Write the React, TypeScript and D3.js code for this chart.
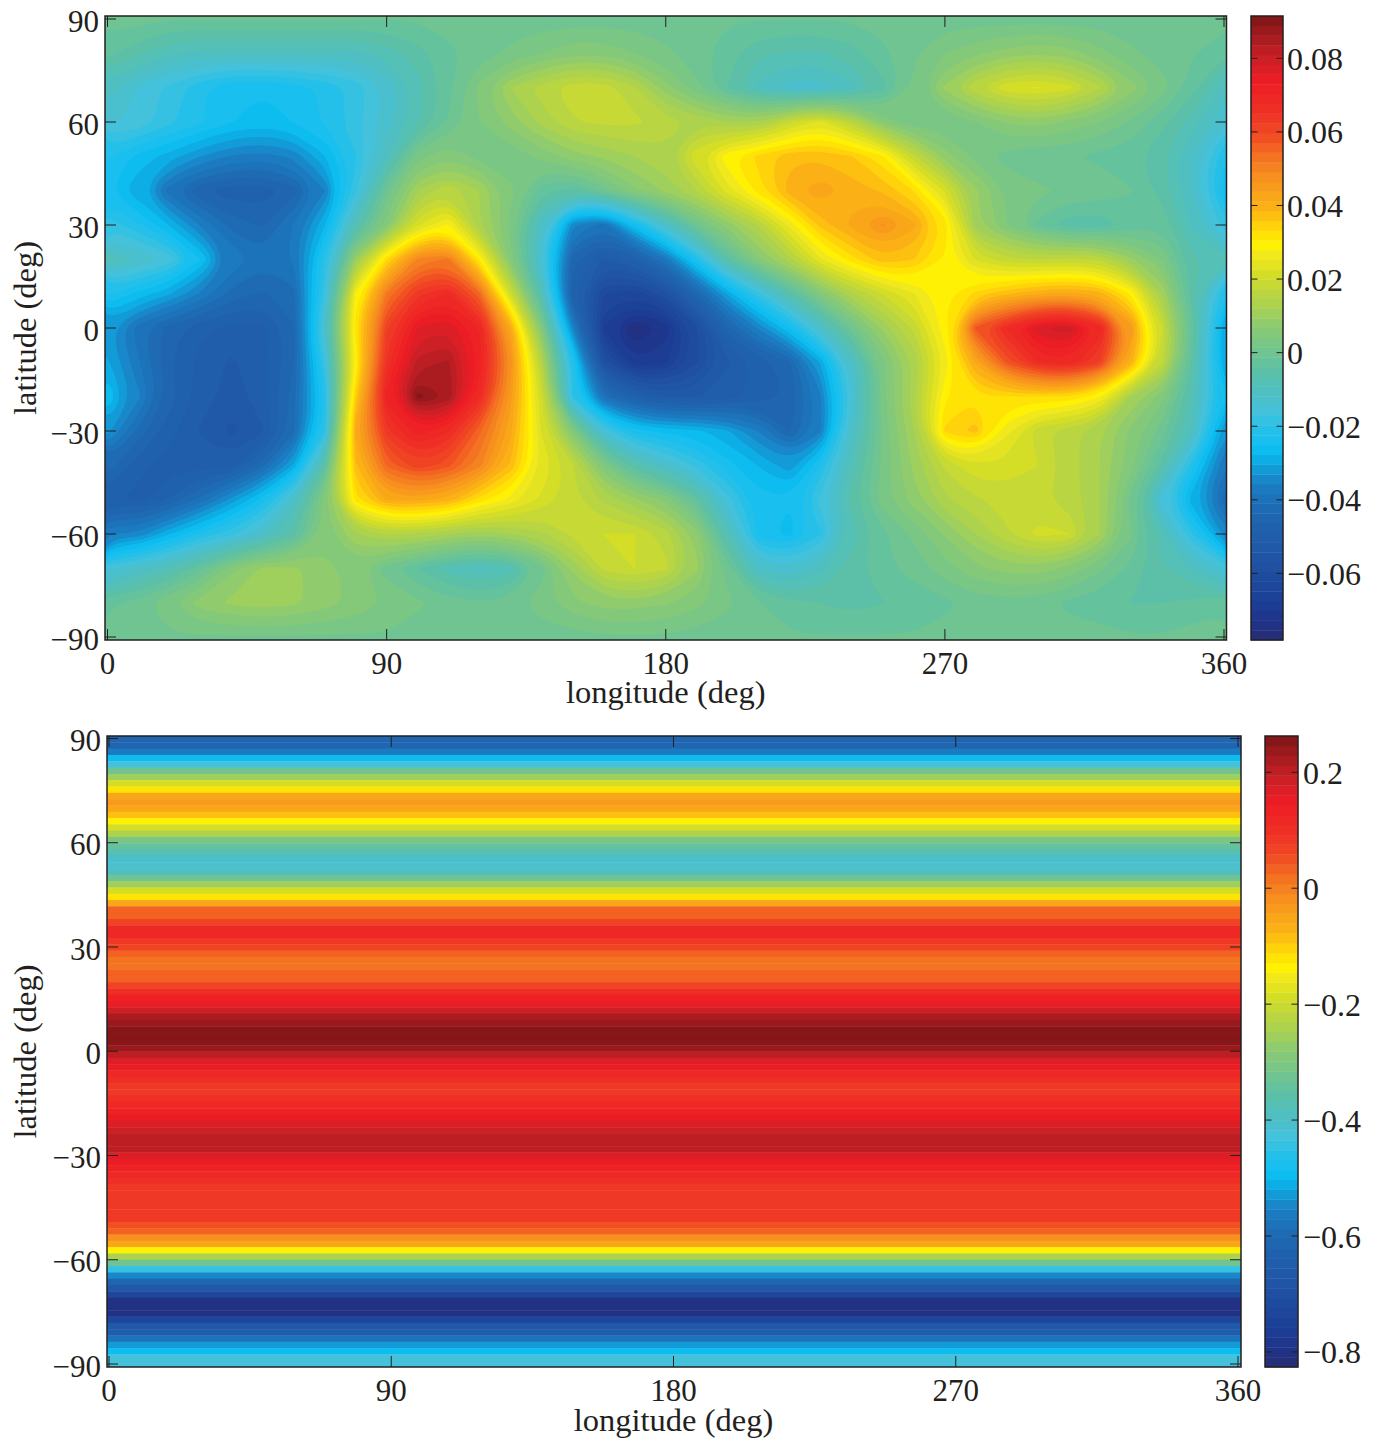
import React from "react";
import * as d3 from "d3";

// ---------- Tick labels ----------
const lonTicks = [0, 90, 180, 270, 360];
const latTicks = [90, 60, 30, 0, -30, -60, -90];
const topBarTicks = [0.08, 0.06, 0.04, 0.02, 0, -0.02, -0.04, -0.06];
const bottomBarTicks = [0.2, 0, -0.2, -0.4, -0.6, -0.8];
const xTitle = "longitude (deg)";
const yTitle = "latitude (deg)";

// ---------- Colour scale ranges ----------
const topRange = [-0.0781, 0.0915];
const bottomRange = [-0.826, 0.2626];

// ---------- Colormap stops: [position, colour] ----------
const mapPositions = [0, 0.03, 0.06, 0.1, 0.15, 0.2, 0.25, 0.28, 0.3, 0.33, 0.37, 0.4, 0.44, 0.47, 0.5, 0.53, 0.56, 0.59, 0.62, 0.635, 0.66, 0.69, 0.72, 0.75, 0.78, 0.81, 0.85, 0.895, 0.92, 0.95, 0.975, 1];
const mapColours = ["#262d72", "#1f3389", "#1b3f95", "#1f4b9f", "#2059a8", "#1f66b0", "#1c7fc3", "#0fa3dd", "#0bbcf1", "#1fc0ec", "#47c1da", "#4fbfc0", "#60c1a0", "#76c68a", "#89ca75", "#a5d056", "#bdd63c", "#d9df24", "#f5ea1c", "#fff200", "#ffd60a", "#fcb515", "#f9a01b", "#f68a1f", "#f46c21", "#f04a24", "#ef2f25", "#ed1c24", "#d71f27", "#b81e24", "#9b191d", "#7e1416"];

// ---------- Top panel: field read at every 10 deg (units of 0.001) ----------
const lonNodes = d3.range(0, 361, 10);
const latNodes = d3.range(90, -91, -10);
const lat90 = [0, 0, -1, -1, -1, -1, -1, -1, -1, -1, -1, 0, 0, 0, 0, 0, 0, 0, 0, 0, -1, -1, -1, -1, -1, 0, 0, 0, 0, 0, 0, 0, 0, 0, 0, 0, 0];
const lat80 = [-3, -6, -9, -10, -10, -10, -10, -10, -10, -8, -5, -2, 0, 2, 4, 6, 6, 4, 2, 0, -3, -6, -7, -7, -5, -2, 1, 4, 6, 8, 9, 8, 5, 2, 0, -1, -3];
const lat70 = [-10, -15, -18, -22, -25, -25, -24, -22, -19, -14, -8, -2, 5, 12, 16, 19, 19, 15, 8, 2, -4, -10, -13, -13, -10, -5, 2, 10, 17, 22, 23, 21, 15, 8, 3, -3, -10];
const lat60 = [-14, -15, -19, -22, -25, -26, -25, -22, -18, -13, -7, -1, 4, 8, 13, 17, 18, 18, 16, 14, 12, 12, 19, 24, 16, 6, 2, 2, 4, 7, 8, 6, 4, 1, -3, -8, -14];
const lat50 = [-22, -26, -29, -33, -36, -37, -35, -28, -20, -10, 3, 6, 3, 2, 5, 8, 10, 12, 14, 22, 30, 34, 38, 38, 36, 31, 18, 8, 3, 0, -1, -1, -2, -3, -6, -12, -22];
const lat40 = [-25, -30, -40, -46, -48, -48, -45, -36, -18, 0, 12, 17, 12, 5, -3, -5, 0, 6, 10, 15, 24, 32, 40, 43, 40, 38, 33, 22, 10, 4, 2, 1, 1, -1, -5, -12, -25];
const lat30 = [-18, -22, -28, -36, -42, -44, -38, -28, -8, 5, 22, 28, 12, 3, -12, -35, -40, -25, -12, 0, 8, 15, 26, 37, 42, 47, 42, 33, 10, 4, -2, -6, -6, -3, -2, -10, -18];
const lat20 = [-8, -12, -15, -25, -36, -40, -38, -20, 10, 33, 50, 52, 30, 5, -15, -45, -52, -48, -38, -22, -5, 6, 14, 25, 32, 38, 36, 30, 22, 18, 17, 18, 17, 10, 4, -6, -8];
const lat10 = [-22, -26, -30, -36, -42, -44, -42, -18, 28, 52, 64, 68, 55, 20, -8, -48, -62, -64, -58, -44, -30, -18, -6, 5, 14, 20, 25, 30, 34, 38, 41, 42, 40, 30, 12, -6, -22];
const lat0 = [-32, -40, -45, -48, -50, -50, -44, -12, 32, 62, 76, 78, 70, 42, 5, -35, -68, -76, -72, -60, -45, -35, -25, -12, 0, 10, 18, 30, 58, 68, 78, 80, 70, 46, 20, -3, -30];
const latS10 = [-30, -38, -46, -50, -52, -50, -44, -18, 28, 65, 82, 84, 72, 48, 15, -20, -58, -70, -68, -60, -52, -48, -44, -30, -12, 3, 12, 26, 42, 58, 68, 70, 62, 40, 18, -5, -30];
const latS20 = [-25, -35, -45, -50, -53, -50, -42, -22, 35, 72, 90, 86, 68, 45, 20, -20, -40, -48, -52, -52, -50, -48, -46, -36, -15, 3, 14, 30, 33, 33, 33, 33, 28, 12, 5, -8, -25];
const latS30 = [-32, -42, -48, -52, -55, -52, -42, -20, 42, 64, 72, 68, 55, 42, 22, 5, -15, -24, -26, -27, -30, -36, -44, -36, -12, 2, 12, 34, 37, 26, 18, 16, 12, 6, 0, -10, -32];
const latS40 = [-42, -48, -50, -50, -50, -42, -30, -5, 38, 55, 62, 58, 50, 38, 25, 18, 4, -6, -12, -18, -24, -28, -32, -22, -8, 2, 10, 18, 22, 22, 20, 16, 12, 5, -5, -22, -38];
const latS50 = [-48, -50, -46, -40, -32, -24, -12, 6, 32, 42, 42, 40, 32, 27, 22, 18, 14, 10, 6, -3, -16, -24, -25, -16, -5, 3, 8, 14, 17, 18, 18, 16, 12, 0, -16, -30, -42];
const latS60 = [-36, -35, -28, -22, -18, -12, -5, 5, 12, 15, 14, 12, 10, 12, 14, 18, 20, 20, 16, 8, -8, -24, -26, -20, -8, -2, 2, 7, 12, 17, 21, 20, 12, 2, -8, -20, -34];
const latS70 = [-15, -12, -8, -2, 6, 10, 10, 8, 5, 0, -4, -8, -10, -8, 0, 10, 18, 20, 18, 10, 0, -12, -14, -10, -5, -2, 0, 3, 6, 8, 8, 6, 2, -2, -6, -10, -15];
const latS80 = [-2, 0, 4, 8, 10, 11, 10, 8, 6, 4, 2, 0, -1, 0, 3, 6, 8, 8, 7, 5, 2, -1, -3, -4, -5, -4, -3, -2, 0, 0, 0, -2, -3, -4, -4, -3, -2];
const latS90 = [0, 0, 1, 1, 1, 1, 1, 1, 1, 1, 0, 0, 0, 0, 0, 0, 1, 1, 1, 0, 0, 0, -1, -1, -1, -1, -1, 0, 0, 0, 0, 0, 0, -1, -1, 0, 0];
const fieldRows = [lat90, lat80, lat70, lat60, lat50, lat40, lat30, lat20, lat10, lat0, latS10, latS20, latS30, latS40, latS50, latS60, latS70, latS80, latS90];

// ---------- Bottom panel: zonal bands, north to south ----------
const zonalBands = [
  -0.61, -0.61, -0.56, -0.5, -0.425, -0.33, -0.25, -0.185, -0.115,
  -0.045, -0.04, -0.06, -0.09, -0.135, -0.19, -0.245, -0.3, -0.345, -0.38,
  -0.41, -0.41, -0.39, -0.33, -0.25, -0.185, -0.12, -0.05, 0.03, 0.04,
  0.06, 0.11, 0.11, 0.09, 0.06, 0.035, 0.02, 0.02, 0.025, 0.035,
  0.06, 0.1, 0.14, 0.16, 0.185, 0.22, 0.245, 0.26, 0.26, 0.26,
  0.24, 0.2, 0.17, 0.15, 0.12, 0.1, 0.09, 0.09, 0.1, 0.12,
  0.13, 0.15, 0.175, 0.18, 0.195, 0.195, 0.195, 0.175, 0.15, 0.13,
  0.11, 0.1, 0.085, 0.08, 0.08, 0.08, 0.08, 0.08, 0.05, 0.04, -0.01,
  -0.06, -0.135, -0.24, -0.33, -0.44, -0.54, -0.62, -0.67, -0.73, -0.8,
  -0.8, -0.8, -0.74, -0.67, -0.65, -0.58, -0.52, -0.49, -0.42, -0.42,
];

// ---------- Drawing helpers ----------
const INK = "#231f20";
const FONT = "'Liberation Serif', 'Times New Roman', serif";
const FS = 31;
const BAR_FS = 32;
const TITLE_FS = 32.5;
const LEVELS = 64;
const colourAt = d3.scaleLinear<string>().domain(mapPositions).range(mapColours).interpolate(d3.interpolateRgb);
const palette = d3.range(LEVELS).map((i) => colourAt((i + 0.5) / LEVELS));
const fmt = (v: number) => (v < 0 ? "\u2212" + Math.abs(v) : String(v));

type Box = { x0: number; x1: number; y0: number; y1: number };
type Layout = {
  frame: Box;
  lon: [number, number];
  lat: [number, number];
  bar: Box;
  range: number[];
  barTicks: number[];
  labelX: number;
  xLabelY: number;
  xTitleY: number;
  id: string;
};

function Axes({ l, children }: { l: Layout; children: React.ReactNode }) {
  const { frame, bar } = l;
  const x = d3.scaleLinear().domain([0, 360]).range(l.lon);
  const y = d3.scaleLinear().domain([90, -90]).range(l.lat);
  const value = d3.scaleLinear().domain(l.range).range([bar.y1, bar.y0]);
  const band = d3.scaleBand<number>().domain(d3.range(LEVELS)).range([bar.y1, bar.y0]);
  const tl = 11;
  const bt = 6.5;
  return (
    <g fontFamily={FONT} fontSize={FS} fill={INK}>
      <defs>
        <clipPath id={l.id}>
          <rect x={frame.x0} y={frame.y0} width={frame.x1 - frame.x0} height={frame.y1 - frame.y0} />
        </clipPath>
      </defs>
      <g clipPath={`url(#${l.id})`}>{children}</g>
      {lonTicks.map((t) => (
        <g key={t}>
          <line x1={x(t)} x2={x(t)} y1={frame.y0} y2={frame.y0 + tl} stroke={INK} strokeWidth={1} />
          <line x1={x(t)} x2={x(t)} y1={frame.y1} y2={frame.y1 - tl} stroke={INK} strokeWidth={1} />
          <text x={x(t)} y={l.xLabelY} textAnchor="middle">{fmt(t)}</text>
        </g>
      ))}
      {latTicks.map((t) => (
        <g key={t}>
          <line x1={frame.x0} x2={frame.x0 + tl} y1={y(t)} y2={y(t)} stroke={INK} strokeWidth={1} />
          <line x1={frame.x1} x2={frame.x1 - tl} y1={y(t)} y2={y(t)} stroke={INK} strokeWidth={1} />
          <text x={frame.x0 - 6} y={y(t) + 12.5} textAnchor="end">{fmt(t)}</text>
        </g>
      ))}
      <rect x={frame.x0} y={frame.y0} width={frame.x1 - frame.x0} height={frame.y1 - frame.y0} fill="none" stroke={INK} strokeWidth={1.5} />
      <text x={(l.lon[0] + l.lon[1]) / 2} y={l.xTitleY} textAnchor="middle" fontSize={TITLE_FS}>{xTitle}</text>
      <text transform={`translate(35.5,${(frame.y0 + frame.y1) / 2}) rotate(-90)`} textAnchor="middle" fontSize={TITLE_FS}>{yTitle}</text>
      {palette.map((c, i) => (
        <rect key={i} x={bar.x0} y={band(i)!} width={bar.x1 - bar.x0} height={band.bandwidth() + 0.4} fill={c} />
      ))}
      {l.barTicks.map((t) => (
        <g key={t}>
          <line x1={bar.x0} x2={bar.x0 + bt} y1={value(t)} y2={value(t)} stroke={INK} strokeWidth={1} />
          <line x1={bar.x1} x2={bar.x1 - bt} y1={value(t)} y2={value(t)} stroke={INK} strokeWidth={1} />
          <text x={l.labelX} y={value(t) + 11.5} fontSize={BAR_FS}>{fmt(t)}</text>
        </g>
      ))}
      <rect x={bar.x0} y={bar.y0} width={bar.x1 - bar.x0} height={bar.y1 - bar.y0} fill="none" stroke={INK} strokeWidth={1.5} />
    </g>
  );
}

const topLayout: Layout = {
  frame: { x0: 105, x1: 1226.5, y0: 16, y1: 640 },
  lon: [107.5, 1224],
  lat: [19, 637],
  bar: { x0: 1251, x1: 1283, y0: 16, y1: 640 },
  range: topRange,
  barTicks: topBarTicks,
  labelX: 1287,
  xLabelY: 673.5,
  xTitleY: 703,
  id: "clip-top",
};
const bottomLayout: Layout = {
  frame: { x0: 107, x1: 1241, y0: 736, y1: 1367 },
  lon: [109, 1238],
  lat: [738.5, 1364],
  bar: { x0: 1265, x1: 1298, y0: 736, y1: 1367 },
  range: bottomRange,
  barTicks: bottomBarTicks,
  labelX: 1303,
  xLabelY: 1401,
  xTitleY: 1431,
  id: "clip-bottom",
};

function FieldMap({ l }: { l: Layout }) {
  const [lo, hi] = l.range;
  const nx = lonNodes.length;
  const ny = latNodes.length;
  const flat = fieldRows.flat().map((v) => v / 1000);
  const thresholds = d3.range(1, LEVELS).map((k) => lo + (k * (hi - lo)) / LEVELS);
  const gen = d3.contours().size([nx, ny]).smooth(true).thresholds(thresholds);
  // contour coordinates put grid node i at i + 0.5
  const x = d3.scaleLinear().domain([0.5, nx - 0.5]).range(l.lon);
  const y = d3.scaleLinear().domain([0.5, ny - 0.5]).range(l.lat);
  const ringPath = d3
    .line<number[]>()
    .x((p) => x(p[0]))
    .y((p) => y(p[1]))
    .curve(d3.curveBasisClosed);
  const bands = gen(flat);
  return (
    <g>
      <rect x={l.frame.x0} y={l.frame.y0} width={l.frame.x1 - l.frame.x0} height={l.frame.y1 - l.frame.y0} fill={palette[0]} />
      {bands.map((b, i) => (
        <path
          key={i}
          fillRule="evenodd"
          d={b.coordinates.flat().map((ring) => ringPath(ring.slice(0, -1)) ?? "").join("")}
          fill={palette[i + 1]}
        />
      ))}
    </g>
  );
}

function ZonalMap({ l }: { l: Layout }) {
  const [lo, hi] = l.range;
  const level = d3.scaleQuantize<string>().domain([lo, hi]).range(palette);
  const band = d3.scaleBand<number>().domain(d3.range(zonalBands.length)).range([l.frame.y0, l.frame.y1]);
  return (
    <g>
      {zonalBands.map((v, i) => (
        <rect key={i} x={l.frame.x0} y={band(i)!} width={l.frame.x1 - l.frame.x0} height={band.bandwidth() + 0.4} fill={level(v)} />
      ))}
    </g>
  );
}

export default function App() {
  return (
    <svg width={1382} height={1441} viewBox="0 0 1382 1441" style={{ position: "absolute", left: 0, top: 0 }}>
      <rect width={1382} height={1441} fill="#fff" />
      <Axes l={topLayout}>
        <FieldMap l={topLayout} />
      </Axes>
      <Axes l={bottomLayout}>
        <ZonalMap l={bottomLayout} />
      </Axes>
    </svg>
  );
}
